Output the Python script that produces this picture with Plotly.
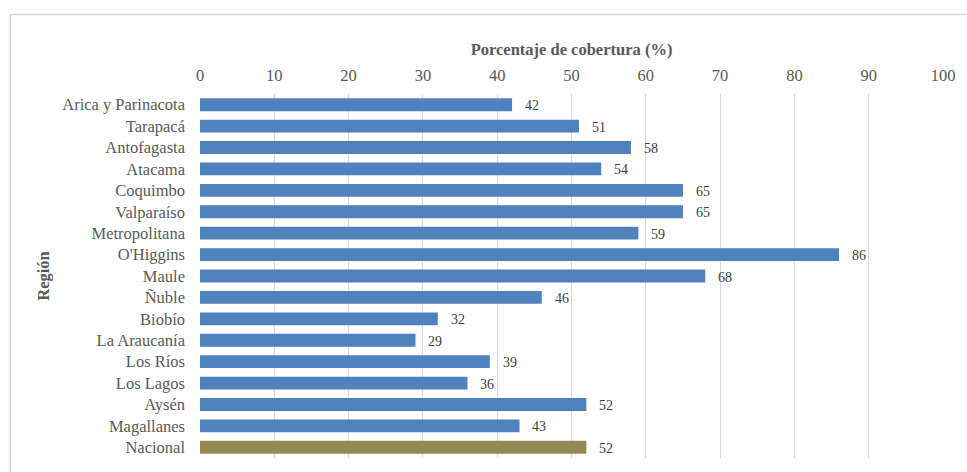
import plotly.graph_objects as go

regiones = ["Arica y Parinacota", "Tarapacá", "Antofagasta", "Atacama", "Coquimbo",
            "Valparaíso", "Metropolitana", "O'Higgins", "Maule", "Ñuble", "Biobío",
            "La Araucanía", "Los Ríos", "Los Lagos", "Aysén", "Magallanes", "Nacional"]
cobertura = [42, 51, 58, 54, 65, 65, 59, 86, 68, 46, 32, 29, 39, 36, 52, 43, 52]
colores = ["#4F81BD"] * 16 + ["#948A54"]
x_ticks = [0, 10, 20, 30, 40, 50, 60, 70, 80, 90, 100]

W, H = 967, 472
ml, mr, mt, mb = 200, 21, 94, 14
font = "Liberation Serif"
fs = 16.5

fig = go.Figure()
fig.add_trace(go.Bar(
    x=cobertura, y=regiones, orientation="h",
    marker=dict(color=colores, line=dict(width=0)),
    width=0.6, hoverinfo="x+y",
))
for r, v in zip(regiones, cobertura):
    fig.add_annotation(x=v, y=r, text=str(v), showarrow=False, xanchor="left",
                       xshift=11, yshift=-1, font=dict(family=font, size=14, color="#404040"))

pw = W - ml - mr
ph = H - mt - mb
fig.add_shape(type="rect", xref="paper", yref="paper",
              x0=(9.5 - ml) / pw, x1=(W + 5 - ml) / pw,
              y0=-(H + 5 - mt - ph) / ph, y1=(mt - 14.5) / ph + 1,
              line=dict(color="#D9D9D9", width=1.5), fillcolor="rgba(0,0,0,0)", layer="below")

fig.update_layout(
    width=W, height=H,
    margin=dict(l=ml, r=mr, t=mt, b=mb, pad=0),
    paper_bgcolor="white", plot_bgcolor="white",
    showlegend=False,
    bargap=0.4,
    font=dict(family=font, size=fs, color="#595959"),
    xaxis=dict(side="top", range=[0, 100], tickvals=x_ticks, ticktext=[str(t) for t in x_ticks],
               showgrid=True, gridcolor="#D9D9D9", gridwidth=1, zeroline=False,
               showline=False, ticks="", ticklabelstandoff=9,
               tickfont=dict(family=font, size=fs, color="#595959"),
               title=dict(text="<b>Porcentaje de cobertura (%)</b>", standoff=5,
                          font=dict(family=font, size=fs, color="#595959"))),
    yaxis=dict(autorange="reversed", showgrid=False, zeroline=False, showline=False,
               ticks="", ticklabelstandoff=14,
               tickfont=dict(family=font, size=fs, color="#595959"),
               title=dict(text="<b>Región</b>", standoff=8,
                          font=dict(family=font, size=fs, color="#595959"))),
)
fig.write_html("out.html")
